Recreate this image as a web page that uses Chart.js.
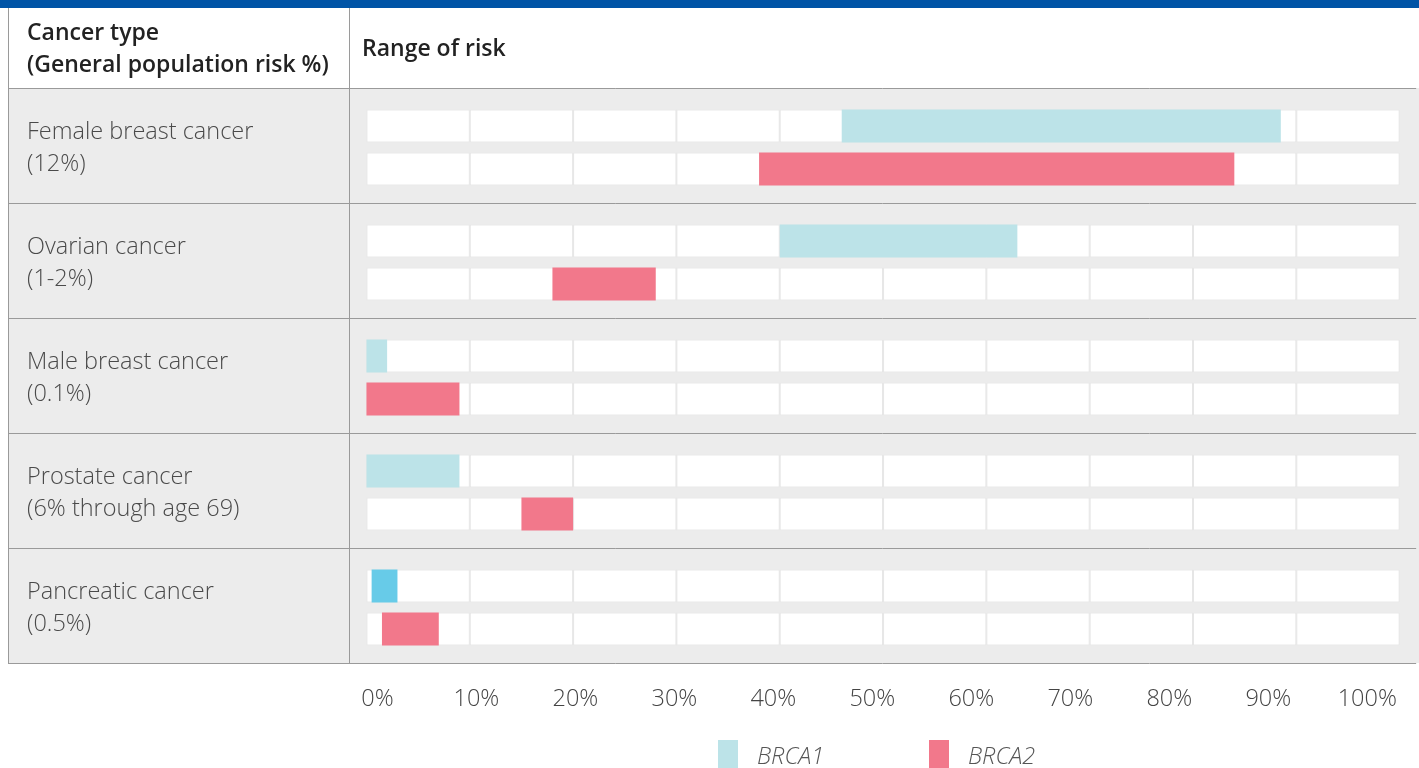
<!DOCTYPE html>
<html>
<head>
<meta charset="utf-8">
<script src="https://cdn.jsdelivr.net/npm/chart.js@4/dist/chart.umd.min.js"></script>
<style>
html,body{margin:0;padding:0;background:#fff;overflow:hidden;width:1419px;height:768px;font-family:"Open Sans",Lato,sans-serif;}
#topbar{position:absolute;left:0;top:0;width:1419px;height:8px;background:#0054a6;z-index:2;}
#wrap{position:absolute;left:0;top:0;width:1419px;height:768px;z-index:1;}
#frameL{position:absolute;left:8px;top:8px;width:1px;height:655px;background:#9a9a9a;z-index:2;}
#frameM{position:absolute;left:349px;top:8px;width:1px;height:655px;background:#9a9a9a;z-index:2;}
.hdr{position:absolute;font-weight:600;font-size:23px;color:#222;line-height:32px;z-index:2;white-space:nowrap;}
#legend{position:absolute;left:718px;top:740px;display:flex;z-index:2;}
.item{display:flex;align-items:flex-start;width:211px;}
.box{width:20px;height:30px;margin-right:19px;}
.lab{font-style:italic;font-weight:300;font-size:23.5px;color:#555;line-height:30px;}
</style>
</head>
<body>
<div id="wrap"><canvas id="c" width="1419" height="768"></canvas></div>
<div id="topbar"></div>
<div id="frameL"></div>
<div id="frameM"></div>
<div class="hdr" style="left:27px;top:15px;">Cancer type<br>(General population risk %)</div>
<div class="hdr" style="left:362px;top:31px;">Range of risk</div>
<div id="legend"></div>
<script>
const categories = [
  ["Female breast cancer", "(12%)"],
  ["Ovarian cancer", "(1-2%)"],
  ["Male breast cancer", "(0.1%)"],
  ["Prostate cancer", "(6% through age 69)"],
  ["Pancreatic cancer", "(0.5%)"]
];
const seriesNames = ["BRCA1", "BRCA2"];
const brca1Low  = [46, 40, 0, 0, 0.5];
const brca1High = [88.5, 63, 2, 9, 3];
const brca2Low  = [38, 18, 0, 15, 1.5];
const brca2High = [84, 28, 9, 20, 7];
const tickValues = [0, 10, 20, 30, 40, 50, 60, 70, 80, 90, 100];

const colBRCA1 = "#bce3e8";
const colBRCA1b = "#67cbe8";
const colBRCA2 = "#f2788b";

const pair = (lo, hi) => lo.map((v, i) => [v, hi[i]]);

const datasets = [
  {label: seriesNames[0], data: pair(brca1Low, brca1High), stack: "s1", order: 0,
   backgroundColor: categories.map((c, i) => i === 4 ? colBRCA1b : colBRCA1), legendColor: colBRCA1, borderWidth: 0},
  {label: seriesNames[1], data: pair(brca2Low, brca2High), stack: "s2", order: 0,
   backgroundColor: colBRCA2, legendColor: colBRCA2, borderWidth: 0}
];
["s1", "s2"].forEach(st => {
  for (let k = 0; k < tickValues.length - 1; k++) {
    datasets.push({
      label: "track", isTrack: true, stack: st, order: 1,
      data: categories.map(() => [tickValues[k], tickValues[k + 1]]),
      backgroundColor: "#ffffff", borderColor: "#e6e6e6", borderWidth: 1, borderSkipped: false
    });
  }
});

const rowBg = {
  id: "rowBg",
  beforeDraw(chart) {
    const {ctx, chartArea} = chart;
    ctx.save();
    ctx.fillStyle = "#ececec";
    ctx.fillRect(8, chartArea.top, chart.width - 8, chartArea.bottom - chartArea.top);
    ctx.restore();
  },
  beforeDatasetsDraw(chart) { chart.ctx.save(); chart.ctx.translate(0, 2); },
  afterDatasetsDraw(chart) { chart.ctx.restore(); }
};

const labelFont = {family: "Open Sans", size: 23.5, weight: "300", lineHeight: 1.36};

new Chart(document.getElementById("c"), {
  type: "bar",
  data: {labels: categories, datasets},
  plugins: [rowBg],
  options: {
    responsive: false,
    animation: false,
    indexAxis: "y",
    categoryPercentage: 0.745,
    barPercentage: 0.77,
    layout: {padding: {left: 27, top: 88, right: 0, bottom: 0}},
    plugins: {legend: {display: false}, tooltip: {enabled: false}},
    scales: {
      x: {type: "linear", min: -1.69, max: 101.6, display: false, stacked: false},
      x2: {
        type: "linear", position: "bottom", min: -2.87, max: 104.94,
        grid: {display: false, drawTicks: false}, border: {display: false},
        afterBuildTicks(s) { s.ticks = tickValues.map(v => ({value: v})); },
        afterFit(s) { s.height = 105; },
        ticks: {autoSkip: false, maxRotation: 0, padding: 22, color: "#444",
          font: {family: "Open Sans", size: 23.5, weight: "300"},
          callback: v => v + "%"}
      },
      y: {
        type: "category",
        grid: {offset: true, color: "#9a9a9a", lineWidth: 1, drawTicks: true, tickLength: 341},
        border: {display: false},
        afterFit(s) { s.width = 322; },
        ticks: {crossAlign: "far", padding: 0, labelOffset: 3, color: "#4a4a4a", font: labelFont}
      }
    }
  }
});

const legend = document.getElementById("legend");
datasets.filter(d => !d.isTrack).forEach(d => {
  const it = document.createElement("div");
  it.className = "item";
  const b = document.createElement("div");
  b.className = "box";
  b.style.background = d.legendColor;
  const t = document.createElement("div");
  t.className = "lab";
  t.textContent = d.label;
  it.appendChild(b); it.appendChild(t);
  legend.appendChild(it);
});
</script>
</body>
</html>
